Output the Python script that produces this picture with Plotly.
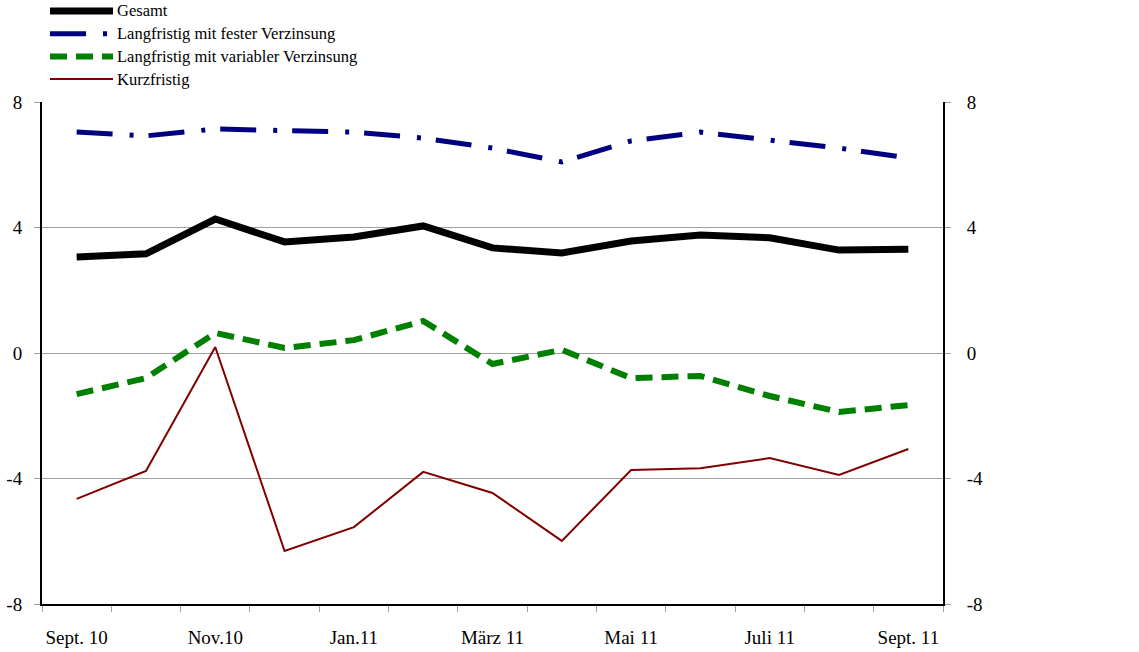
import plotly.graph_objects as go

# Monate (Kategorien) und Zeitreihen
monate = ["Sept. 10", "Okt. 10", "Nov.10", "Dez. 10", "Jan.11", "Feb. 11",
          "März 11", "Apr. 11", "Mai 11", "Juni 11", "Juli 11", "Aug. 11", "Sept. 11"]
gesamt = [3.06, 3.16, 4.27, 3.54, 3.70, 4.05, 3.35, 3.19, 3.57, 3.76, 3.67, 3.28, 3.31]
fest = [7.04, 6.92, 7.14, 7.08, 7.04, 6.85, 6.53, 6.09, 6.76, 7.04, 6.79, 6.53, 6.22]
variabel = [-1.31, -0.80, 0.64, 0.16, 0.41, 1.02, -0.35, 0.10, -0.80, -0.73, -1.37, -1.88, -1.66]
kurz = [-4.65, -3.76, 0.19, -6.31, -5.55, -3.79, -4.46, -5.99, -3.73, -3.67, -3.35, -3.89, -3.06]
y_ticks = [-8, -4, 0, 4, 8]
y_text = ["-8", "-4", "0", "4", "8"]

FONT = "Liberation Serif, Times New Roman, serif"
GRID = "#a0a0a0"

serien = [
    ("Gesamt", gesamt, dict(color="#000000", width=7)),
    ("Langfristig mit fester Verzinsung", fest,
     dict(color="#000080", width=5, dash="36px,17px,4px,15px")),
    ("Langfristig mit variabler Verzinsung", variabel,
     dict(color="#008000", width=6, dash="17px,9px")),
    ("Kurzfristig", kurz, dict(color="#800000", width=2)),
]

x = list(range(len(monate)))
fig = go.Figure()
for name, werte, line in serien:
    fig.add_scatter(x=x, y=werte, name=name, mode="lines", line=line,
                    showlegend=False)
# unsichtbare Spur für die rechte Achse
fig.add_scatter(x=x, y=gesamt, yaxis="y2", mode="lines", line=dict(width=0),
                showlegend=False, hoverinfo="skip")

W, H = 1139, 652
L, R, T, B = 42, 196, 102, 48
pw, ph = W - L - R, H - T - B
# Legende von Hand (lange Linienmuster wie in der Vorlage)
for i, (name, _, line) in enumerate(serien):
    py = 11 + i * 22.7
    yp = (H - B - py) / ph
    fig.add_shape(type="line", xref="paper", yref="paper",
                  x0=(50 - L) / pw, x1=(113 - L) / pw, y0=yp, y1=yp,
                  line=line)
    fig.add_annotation(xref="paper", yref="paper", x=(115 - L) / pw, y=yp,
                       text=name, showarrow=False, xanchor="left",
                       yanchor="middle", font=dict(family=FONT, size=16.5, color="#000"))

fig.update_layout(
    width=W, height=H, plot_bgcolor="white", paper_bgcolor="white",
    margin=dict(l=L, r=R, t=T, b=B, autoexpand=False),
    font=dict(family=FONT, size=19, color="#000"),
    xaxis=dict(range=[-0.5, len(monate) - 0.5], tickvals=x[::2],
               ticktext=monate[::2], ticks="", showgrid=False, automargin=False,
               ticklabelstandoff=15, showline=True, linecolor="#000",
               linewidth=2, mirror=False, zeroline=False,
               minor=dict(tickvals=[i - 0.5 for i in range(len(monate) + 1)],
                          ticks="outside", ticklen=6, tickcolor=GRID,
                          showgrid=False)),
    yaxis=dict(range=[-8, 8], tickvals=y_ticks, ticktext=y_text, showgrid=True,
               gridcolor=GRID, gridwidth=1, zeroline=False, showline=True,
               linecolor="#000", linewidth=2, ticks="outside", ticklen=6,
               tickcolor=GRID, ticklabelstandoff=8, automargin=False),
    yaxis2=dict(range=[-8, 8], tickvals=y_ticks, ticktext=y_text, overlaying="y",
                side="right", showgrid=False, zeroline=False, showline=True,
                linecolor="#000", linewidth=2, ticks="outside", ticklen=6,
                tickcolor=GRID, ticklabelstandoff=12, automargin=False),
)

# Seitenrand des Browsers entfernen, damit die Figur bei (0, 0) beginnt
fig.write_html("out.html", config={"displayModeBar": False},
               post_script="document.body.style.margin='0';")
